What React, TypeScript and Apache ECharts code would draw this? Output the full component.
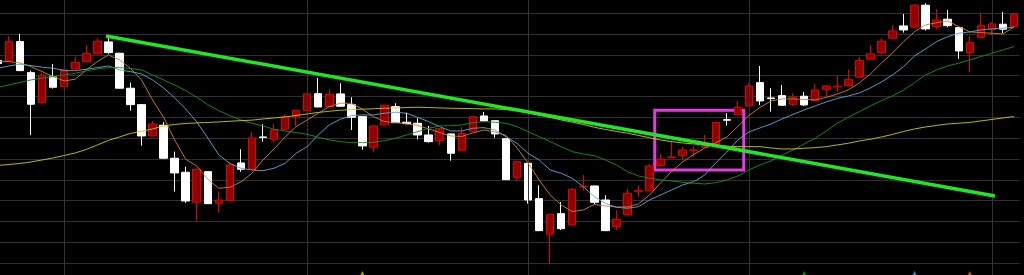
import React, { useEffect, useRef } from "react";
import * as echarts from "echarts";

// Daily candles (prices), left to right
const opens = [
  12.425, 12.42, 12.613, 12.303, 12.003, 12.263, 12.163, 12.34, 12.413, 12.49,
  12.61, 12.497, 12.147, 11.983, 11.67, 11.777, 11.447, 11.307, 11.007, 11.313,
  10.997, 11.027, 11.4, 11.337, 11.66, 11.637, 11.737, 11.863, 11.923, 12.093,
  11.963, 12.09, 11.983, 11.863, 11.557, 11.78, 11.963, 11.807, 11.797, 11.68,
  11.623, 11.69, 11.527, 11.717, 11.87, 11.823, 11.643, 11.253, 11.397, 11.043,
  10.687, 10.893, 10.78, 11.16, 11.17, 11.03, 10.763, 10.883, 11.117, 11.123,
  11.373, 11.453, 11.477, 11.523, 11.557, 11.587, 11.833, 11.883, 11.97, 12.203,
  12.05, 12.073, 11.987, 12.067, 12.023, 12.137, 12.16, 12.173, 12.257, 12.437,
  12.503, 12.647, 12.77, 12.757, 12.977, 12.763, 12.837, 12.753, 12.503, 12.657,
  12.737, 12.787, 12.763,
];
const closes = [
  12.395, 12.613, 12.323, 11.987, 12.277, 12.157, 12.33, 12.407, 12.493, 12.617,
  12.503, 12.147, 11.983, 11.67, 11.79, 11.447, 11.3, 11.02, 11.337, 10.993,
  11.03, 11.38, 11.337, 11.65, 11.655, 11.73, 11.863, 11.927, 12.09, 11.96,
  12.087, 11.967, 11.857, 11.57, 11.77, 11.977, 11.803, 11.793, 11.68, 11.613,
  11.743, 11.497, 11.697, 11.863, 11.82, 11.69, 11.233, 11.413, 11.03, 10.723,
  10.887, 10.743, 11.137, 11.167, 11.007, 10.723, 10.837, 11.097, 11.123, 11.37,
  11.437, 11.46, 11.53, 11.53, 11.573, 11.807, 11.827, 11.957, 12.17, 12.02,
  12.043, 11.977, 12.057, 11.98, 12.13, 12.17, 12.167, 12.233, 12.423, 12.49,
  12.617, 12.72, 12.73, 12.977, 12.74, 12.83, 12.773, 12.52, 12.603, 12.773,
  12.79, 12.737, 12.887,
];
const lows = [
  12.39, 12.415, 12.32, 11.677, 12.0, 12.143, 12.16, 12.337, 12.41, 12.487,
  12.49, 12.143, 11.923, 11.573, 11.667, 11.443, 11.113, 11.003, 10.817, 10.99,
  10.903, 11.025, 11.313, 11.335, 11.613, 11.603, 11.735, 11.77, 11.92, 11.957,
  11.96, 11.963, 11.73, 11.533, 11.51, 11.777, 11.8, 11.787, 11.637, 11.603,
  11.577, 11.423, 11.525, 11.715, 11.817, 11.653, 11.23, 11.23, 10.993, 10.72,
  10.387, 10.73, 10.777, 11.123, 10.99, 10.72, 10.73, 10.88, 11.063, 11.12,
  11.37, 11.45, 11.427, 11.463, 11.555, 11.585, 11.773, 11.88, 11.967, 11.98,
  11.913, 11.975, 11.97, 11.97, 12.02, 12.063, 12.11, 12.17, 12.255, 12.435,
  12.49, 12.645, 12.703, 12.755, 12.723, 12.74, 12.757, 12.44, 12.307, 12.655,
  12.68, 12.697, 12.76,
];
const highs = [
  12.43, 12.67, 12.69, 12.323, 12.297, 12.39, 12.335, 12.463, 12.58, 12.643,
  12.657, 12.5, 12.203, 11.985, 11.817, 11.81, 11.513, 11.363, 11.34, 11.315,
  11.113, 11.407, 11.537, 11.713, 11.787, 11.79, 11.887, 11.93, 12.095, 12.25,
  12.137, 12.197, 12.057, 11.865, 11.773, 11.98, 11.997, 11.903, 11.847, 11.77,
  11.745, 11.693, 11.76, 11.865, 11.91, 11.825, 11.645, 11.415, 11.4, 11.177,
  10.89, 11.01, 11.14, 11.28, 11.173, 11.077, 10.927, 11.14, 11.177, 11.39,
  11.493, 11.623, 11.56, 11.563, 11.68, 11.817, 11.897, 12.02, 12.197, 12.37,
  12.147, 12.18, 12.097, 12.11, 12.19, 12.173, 12.267, 12.337, 12.457, 12.58,
  12.647, 12.777, 12.89, 12.99, 12.997, 12.937, 12.93, 12.755, 12.673, 12.89,
  12.81, 12.91, 12.903,
];

// Moving averages as drawn on the chart
const ma5 = [
  12.413, 12.413, 12.4, 12.363, 12.313, 12.263, 12.22, 12.237, 12.33, 12.413,
  12.48, 12.43, 12.345, 12.23, 12.03, 11.857, 11.63, 11.437, 11.37, 11.237,
  11.147, 11.157, 11.21, 11.297, 11.43, 11.54, 11.66, 11.763, 11.83, 11.897,
  11.963, 11.997, 11.997, 11.937, 11.863, 11.813, 11.805, 11.79, 11.775, 11.74,
  11.705, 11.67, 11.665, 11.7, 11.73, 11.71, 11.675, 11.55, 11.4, 11.23,
  11.08, 10.98, 10.915, 10.93, 10.985, 10.97, 10.96, 10.96, 10.99, 11.08,
  11.2, 11.315, 11.41, 11.485, 11.55, 11.6, 11.66, 11.765, 11.875, 11.955,
  12.02, 12.04, 12.04, 12.035, 12.03, 12.055, 12.09, 12.13, 12.2, 12.29,
  12.4, 12.5, 12.613, 12.713, 12.78, 12.803, 12.82, 12.763, 12.71, 12.703,
  12.697, 12.69, 12.76,
];
const ma10 = [
  12.347, 12.37, 12.387, 12.373, 12.357, 12.347, 12.323, 12.323, 12.337, 12.353,
  12.37, 12.33, 12.313, 12.29, 12.23, 12.15, 12.05, 11.94, 11.81, 11.65,
  11.48, 11.395, 11.347, 11.33, 11.323, 11.347, 11.397, 11.497, 11.563, 11.68,
  11.78, 11.837, 11.873, 11.88, 11.88, 11.897, 11.907, 11.897, 11.857, 11.813,
  11.763, 11.72, 11.72, 11.747, 11.753, 11.73, 11.663, 11.597, 11.497, 11.43,
  11.33, 11.297, 11.247, 11.163, 11.063, 10.997, 10.957, 10.947, 10.963, 11.03,
  11.08, 11.13, 11.18, 11.213, 11.28, 11.4, 11.51, 11.63, 11.71, 11.75,
  11.79, 11.84, 11.885, 11.93, 11.97, 12.01, 12.045, 12.07, 12.1, 12.15,
  12.21, 12.28, 12.363, 12.47, 12.54, 12.613, 12.663, 12.697, 12.71, 12.73,
  12.74, 12.747, 12.757,
];
const ma20 = [
  12.157, 12.18, 12.205, 12.23, 12.247, 12.263, 12.28, 12.297, 12.32, 12.34,
  12.353, 12.353, 12.345, 12.33, 12.28, 12.23, 12.18, 12.123, 12.057, 11.983,
  11.923, 11.873, 11.83, 11.797, 11.77, 11.737, 11.72, 11.703, 11.687, 11.657,
  11.63, 11.613, 11.603, 11.603, 11.607, 11.623, 11.647, 11.68, 11.713, 11.747,
  11.77, 11.773, 11.78, 11.803, 11.813, 11.807, 11.797, 11.763, 11.713, 11.663,
  11.613, 11.563, 11.513, 11.49, 11.473, 11.43, 11.38, 11.313, 11.27, 11.247,
  11.23, 11.22, 11.207, 11.197, 11.19, 11.203, 11.23, 11.27, 11.33, 11.38,
  11.42, 11.48, 11.53, 11.59, 11.647, 11.72, 11.797, 11.857, 11.913, 11.97,
  12.023, 12.07, 12.13, 12.203, 12.28, 12.33, 12.37, 12.397, 12.43, 12.463,
  12.497, 12.53, 12.563,
];
const ma60 = [
  11.375, 11.385, 11.395, 11.41, 11.43, 11.45, 11.475, 11.5, 11.535, 11.58,
  11.625, 11.66, 11.695, 11.717, 11.74, 11.77, 11.785, 11.795, 11.8, 11.805,
  11.81, 11.817, 11.823, 11.828, 11.84, 11.85, 11.86, 11.875, 11.89, 11.905,
  11.917, 11.927, 11.933, 11.938, 11.942, 11.947, 11.95, 11.954, 11.957, 11.954,
  11.95, 11.947, 11.945, 11.943, 11.94, 11.94, 11.935, 11.92, 11.9, 11.878,
  11.855, 11.83, 11.808, 11.785, 11.757, 11.735, 11.715, 11.697, 11.675, 11.652,
  11.63, 11.613, 11.6, 11.59, 11.58, 11.573, 11.568, 11.563, 11.563, 11.563,
  11.55, 11.54, 11.54, 11.547, 11.553, 11.563, 11.58, 11.597, 11.62, 11.637,
  11.66, 11.685, 11.715, 11.74, 11.76, 11.775, 11.79, 11.797, 11.805, 11.82,
  11.835, 11.85, 11.863,
];

const categories = opens.map((_, i) => `D${i + 1}`);

// Vertical separators (candle index), trend line and highlighted box
const separatorDays = [6, 28, 48, 68, 90];
const trendLine = [
  [9.78, 12.67],
  [90.28, 11.07],
];
const highlightBox = [
  [59.47, 11.927],
  [67.53, 11.33],
];
const markerDays = [33, 73, 83, 88];
const markerLevel = 10.295;

const markerColors = ["#c8c800", "#1a9a1a", "#5aa8d0", "#c8782a"];

// The chart canvas is larger than the window so that the plot can bleed past the edges
const PAD = 20;

export default function App() {
  const ref = useRef<HTMLDivElement>(null);

  useEffect(() => {
    if (!ref.current) return;
    const chart = echarts.init(ref.current, undefined, { renderer: "svg" });
    const candles = opens.map((o, i) => [o, closes[i], lows[i], highs[i]]);
    const maLine = (name: string, data: number[], color: string) => ({
      name,
      type: "line",
      data,
      xAxisIndex: 0,
      yAxisIndex: 0,
      showSymbol: false,
      symbol: "none",
      silent: true,
      z: 5,
      lineStyle: { color, width: 1, opacity: 0.9 },
    });
    chart.setOption({
      animation: false,
      backgroundColor: "#000000",
      grid: {
        left: PAD - 7.566,
        right: PAD + 4.48,
        top: PAD - 7.5,
        bottom: PAD - 8.8,
        containLabel: false,
      },
      xAxis: [
        {
          type: "category",
          data: categories,
          boundaryGap: true,
          axisLine: { show: false },
          axisTick: { show: false },
          axisLabel: { show: false },
          splitLine: { show: false },
        },
        {
          type: "value",
          min: -0.5,
          max: 92.5,
          show: false,
          splitLine: { show: false },
        },
      ],
      yAxis: {
        type: "value",
        min: 10.192,
        max: 13.104,
        interval: 0.208,
        axisLine: { show: false },
        axisTick: { show: false },
        axisLabel: { show: false },
        splitLine: { show: true, lineStyle: { color: "#303030", width: 1 } },
      },
      series: [
        {
          name: "separators",
          type: "line",
          xAxisIndex: 1,
          yAxisIndex: 0,
          data: [],
          silent: true,
          z: 1,
          markLine: {
            silent: true,
            symbol: ["none", "none"],
            label: { show: false },
            lineStyle: { color: "#333333", width: 1, type: "solid" },
            data: separatorDays.map((d) => ({ xAxis: d })),
          },
        },
        {
          name: "K",
          type: "candlestick",
          data: candles,
          xAxisIndex: 0,
          yAxisIndex: 0,
          barWidth: 8,
          z: 3,
          itemStyle: {
            color: "#8c0000",
            color0: "#ffffff",
            borderColor: "#e60000",
            borderColor0: "#ffffff",
            borderWidth: 1,
          },
        },
        maLine("MA5", ma5, "#d0822e"),
        maLine("MA10", ma10, "#5fa8d2"),
        maLine("MA20", ma20, "#179317"),
        maLine("MA60", ma60, "#cccc00"),
        {
          name: "trend",
          type: "line",
          xAxisIndex: 1,
          yAxisIndex: 0,
          data: trendLine,
          showSymbol: false,
          symbol: "none",
          silent: true,
          z: 10,
          lineStyle: { color: "#22e622", width: 3.5 },
          markArea: {
            silent: true,
            itemStyle: {
              color: "rgba(0,0,0,0)",
              borderColor: "#e23de2",
              borderWidth: 3,
            },
            data: [
              [
                { coord: highlightBox[0] },
                { coord: highlightBox[1] },
              ],
            ],
          },
        },
        {
          name: "markers",
          type: "scatter",
          xAxisIndex: 0,
          yAxisIndex: 0,
          symbol: "triangle",
          symbolSize: 5,
          silent: true,
          z: 6,
          data: markerDays.map((d, i) => ({
            value: [d, markerLevel],
            itemStyle: { color: markerColors[i] },
          })),
        },
      ],
    });
    return () => chart.dispose();
  }, []);

  return (
    <div
      style={{
        position: "fixed",
        left: 0,
        top: 0,
        width: 1024,
        height: 275,
        overflow: "hidden",
        background: "#000",
      }}
    >
      <div
        ref={ref}
        style={{
          position: "absolute",
          left: -PAD,
          top: -PAD,
          width: 1024 + 2 * PAD,
          height: 275 + 2 * PAD,
        }}
      />
    </div>
  );
}
